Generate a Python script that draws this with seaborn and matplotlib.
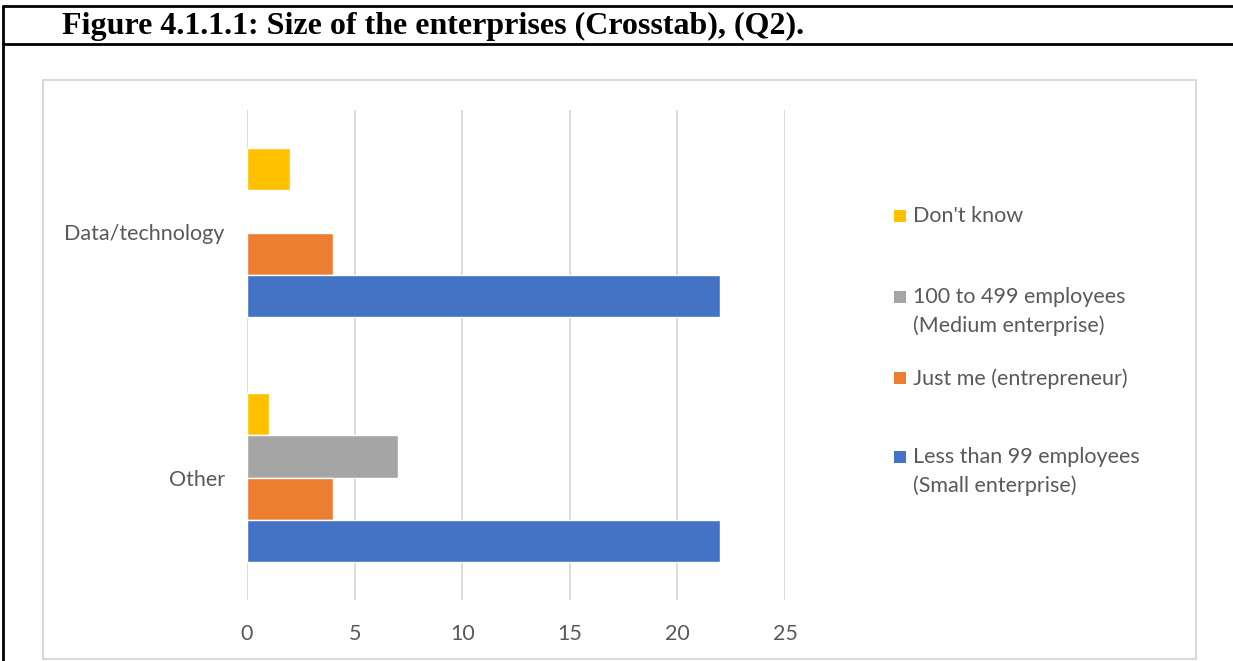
import matplotlib
matplotlib.use("Agg")
import matplotlib.pyplot as plt
from matplotlib.patches import Rectangle
from matplotlib.lines import Line2D
import seaborn as sns
import pandas as pd

# ---- data ----
categories = ["Data/technology", "Other"]
size_levels = [
    "Don't know",
    "100 to 499 employees\n(Medium enterprise)",
    "Just me (entrepreneur)",
    "Less than 99 employees\n(Small enterprise)",
]
dont_know = [2, 1]
medium = [0, 7]
just_me = [4, 4]
small = [22, 22]
x_ticks = [0, 5, 10, 15, 20, 25]

colors = ["#FFC000", "#A5A5A5", "#ED7D31", "#4472C4"]

rows = []
for series_name, vals in zip(size_levels, [dont_know, medium, just_me, small]):
    for cat, v in zip(categories, vals):
        rows.append({"sector": cat, "size": series_name, "count": v})
df = pd.DataFrame(rows)

sns.set_theme(style="white")
plt.rcParams["font.family"] = ["Lato", "DejaVu Sans"]

W, H = 1233, 661
fig = plt.figure(figsize=(W / 100, H / 100), dpi=100)

def fx(px):
    return px / W

def fy(py):
    return 1 - py / H

ax = fig.add_axes([fx(247), fy(600), fx(785) - fx(247), fy(110) - fy(600)])

sns.barplot(
    data=df, y="sector", x="count", hue="size", hue_order=size_levels,
    order=categories, palette=colors, orient="h", width=0.686,
    dodge=True, saturation=1, legend=False, ax=ax, zorder=3,
)

ax.set_xlim(0, 25)
ax.set_ylim(1.5, -0.5)
ax.set_xticks(x_ticks)
ax.set_xlabel("")
ax.set_ylabel("")
for s in ax.spines.values():
    s.set_visible(False)
ax.grid(axis="x", color="#D9D9D9", linewidth=1.3, zorder=0)
ax.grid(axis="y", visible=False)
ax.set_axisbelow(True)
ax.tick_params(axis="x", length=0, pad=17, labelsize=15.5, labelcolor="#595959")
ax.tick_params(axis="y", length=0, pad=16, labelsize=15.5, labelcolor="#595959")

# ---- chart box border ----
fig.add_artist(Rectangle((fx(43), fy(659)), fx(1196) - fx(43), fy(80) - fy(659),
                         transform=fig.transFigure, fill=False,
                         edgecolor="#D9D9D9", linewidth=1.5))

# ---- table lines ----
fig.add_artist(Line2D([fx(3), 1], [fy(6), fy(6)], transform=fig.transFigure, color="black", linewidth=2))
fig.add_artist(Line2D([fx(3), 1], [fy(44), fy(44)], transform=fig.transFigure, color="black", linewidth=2))
fig.add_artist(Line2D([fx(3), fx(3)], [fy(6), 0], transform=fig.transFigure, color="black", linewidth=2))

# ---- title ----
fig.text(fx(62), fy(26), "Figure 4.1.1.1: Size of the enterprises (Crosstab), (Q2).",
         family=["Liberation Serif", "DejaVu Serif"], weight="bold", fontsize=23,
         va="center", ha="left", color="black")

# ---- legend (Excel-style slots) ----
legend_y = [216, 297, 378, 457]
for name, col, ypx in zip(size_levels, colors, legend_y):
    fig.add_artist(Rectangle((fx(894), fy(ypx + 6)), fx(12), 12 / H,
                             transform=fig.transFigure, facecolor=col, edgecolor="none"))
    fig.text(fx(913), fy(ypx - 10), name, ha="left", va="top", fontsize=15.5,
             color="#595959", linespacing=1.5)

fig.savefig("out.png", dpi=100)
